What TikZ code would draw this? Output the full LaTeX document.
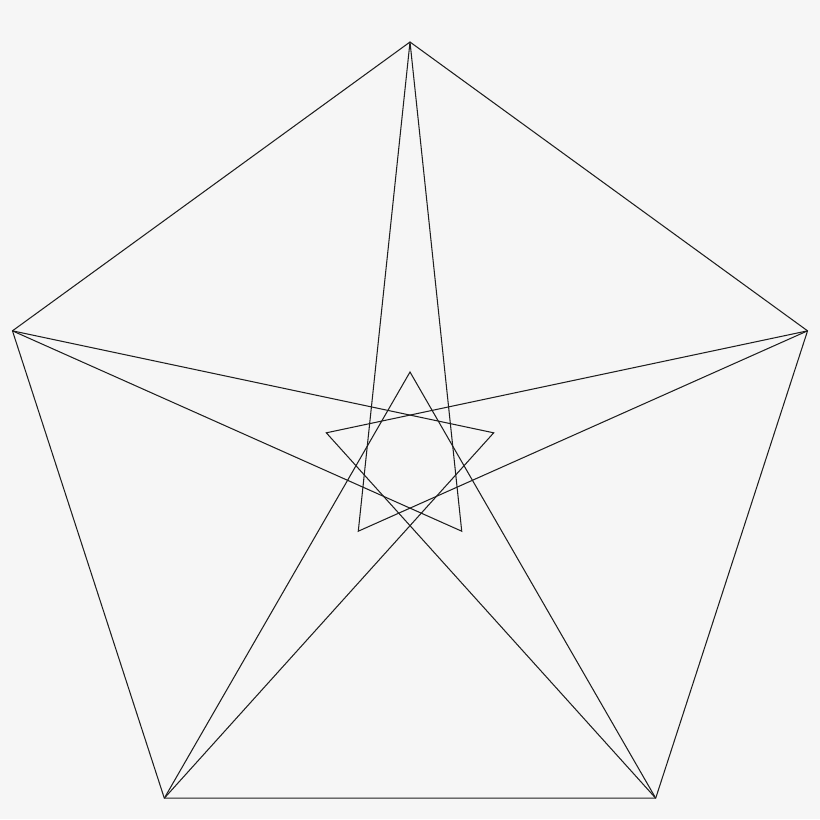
\documentclass[tikz,border=0pt]{standalone}
\definecolor{bg}{RGB}{246,246,246}
\definecolor{ink}{RGB}{30,30,30}
\tikzset{edge/.style={draw=ink,line width=0.6pt,line join=miter}}
\begin{document}
\begin{tikzpicture}[x=0.02cm,y=-0.02cm]
\fill[bg] (0,0) rectangle (820,819);
\useasboundingbox (0,0) rectangle (820,819);
\foreach \k in {0,...,4}{
  \coordinate (v\k) at ({410+418*cos(90+72*\k)},{460-418*sin(90+72*\k)});
  \coordinate (p\k) at ({410+88*cos(90+72*\k)},{460-88*sin(90+72*\k)});
}
\draw[edge] (v0) -- (v1) -- (v2) -- (v3) -- (v4) -- cycle;
\draw[edge] (v2) -- (p0) -- (v3);
\draw[edge] (v3) -- (p1) -- (v4);
\draw[edge] (v4) -- (p2) -- (v0);
\draw[edge] (v0) -- (p3) -- (v1);
\draw[edge] (v1) -- (p4) -- (v2);
\end{tikzpicture}
\end{document}
